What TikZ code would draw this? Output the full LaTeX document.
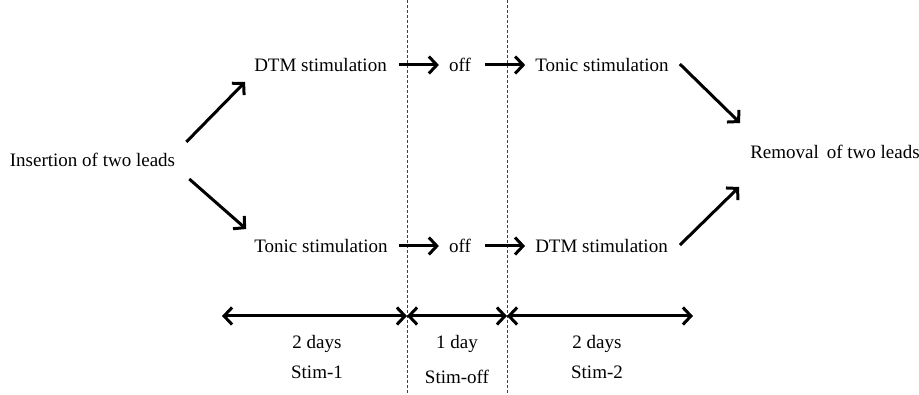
\documentclass[tikz,border=0pt]{standalone}
\usepackage{fontspec}
\setmainfont{Liberation Serif}
\usetikzlibrary{arrows.meta}
\begin{document}
\begin{tikzpicture}[x=1pt,y=-1pt,
  lbl/.style={inner sep=0pt,font=\fontsize{19}{21}\selectfont},
  arr/.style={line width=3pt,-{Straight Barb[length=8pt,width=17pt]}},
  darr/.style={line width=3pt,{Straight Barb[length=8pt,width=17pt]}-{Straight Barb[length=8pt,width=17pt]}},
  divider/.style={densely dashed,line width=0.8pt,black!75}]
\useasboundingbox (0,0) rectangle (919,395);
% dividers
\coordinate (v1t) at (407,0); \coordinate (v1b) at (407,395);
\coordinate (v2t) at (507,0); \coordinate (v2b) at (507,395);
\draw[divider] (v1t) -- (v1b);
\draw[divider] (v2t) -- (v2b);
% nodes
\node[lbl] (ins) at (92.5,160) {Insertion of two leads};
\node[lbl] (dtm1) at (320.5,65) {DTM stimulation};
\node[lbl] (ton1) at (321,246) {Tonic stimulation};
\node[lbl] (off1) at (460,65) {off};
\node[lbl] (off2) at (460,246) {off};
\node[lbl] (ton2) at (602,65) {Tonic stimulation};
\node[lbl] (dtm2) at (601.5,246) {DTM stimulation};
\node[lbl] (rem) at (835,152) {Removal\,\ of two leads};
% connectors
\draw[arr] ([shift={(11,-18)}]ins.east) -- ([shift={(-9,17)}]dtm1.west);
\draw[arr] ([shift={(14,19)}]ins.east) -- ([shift={(-8,-17)}]ton1.west);
\draw[arr] ([shift={(12,0)}]dtm1.east) -- ([shift={(-10,0)}]off1.west);
\draw[arr] ([shift={(14,0)}]off1.east) -- ([shift={(-10,0)}]ton2.west);
\draw[arr] ([shift={(11,0)}]ton1.east) -- ([shift={(-10,0)}]off2.west);
\draw[arr] ([shift={(14,0)}]off2.east) -- ([shift={(-10,0)}]dtm2.west);
\draw[arr] ([shift={(11,-1)}]ton2.east) -- ([shift={(-10,-29)}]rem.west);
\draw[arr] ([shift={(12,-1)}]dtm2.east) -- ([shift={(-11,35)}]rem.west);
% timeline
\coordinate (b0) at (222,316);
\coordinate (b1) at (407,316);
\coordinate (b2) at (507,316);
\coordinate (b3) at (693,316);
\draw[darr] (b0) -- (b1);
\draw[darr] (b1) -- (b2);
\draw[darr] (b2) -- (b3);
\node[lbl] (d1) at (317,344) {2 days};
\node[lbl] (s1) at (317,372) {Stim-1};
\node[lbl] (d2) at (457,344) {1 day};
\node[lbl] (s2) at (457,377) {Stim-off};
\node[lbl] (d3) at (597,344) {2 days};
\node[lbl] (s3) at (597,372) {Stim-2};
\end{tikzpicture}
\end{document}
